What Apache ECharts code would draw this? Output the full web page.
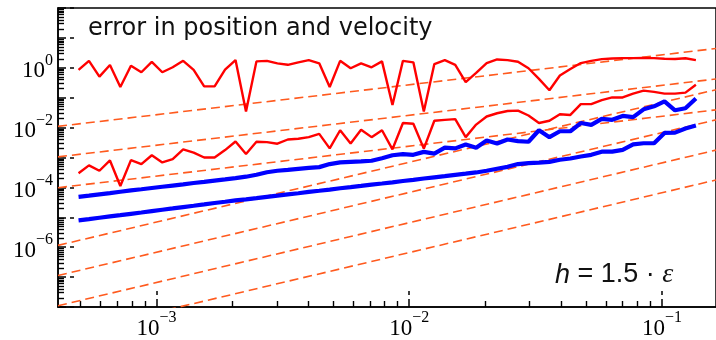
<!DOCTYPE html>
<html>
<head>
<meta charset="utf-8">
<script src="https://cdn.jsdelivr.net/npm/echarts@6/dist/echarts.min.js"></script>
<style>
  html, body { margin: 0; padding: 0; background: #fff; }
  #chart { width: 716px; height: 340px; }
</style>
</head>
<body>
<div id="chart"></div>
<script>
// ---- data ----
const X_MIN = 4.08e-4;
const X_MAX = 0.1637;
const Y_MIN = 1e-8;
const Y_MAX = 1e2;

const stepSizes = [4.92e-4, 5.41e-4, 5.95e-4, 6.55e-4, 7.20e-4, 7.93e-4, 8.72e-4, 9.59e-4, 1.055e-3, 1.160e-3,
  1.276e-3, 1.404e-3, 1.545e-3, 1.699e-3, 1.869e-3, 2.056e-3, 2.262e-3, 2.488e-3, 2.737e-3, 3.011e-3,
  3.311e-3, 3.643e-3, 4.007e-3, 4.408e-3, 4.849e-3, 5.333e-3, 5.867e-3, 6.454e-3, 7.099e-3, 7.809e-3,
  8.590e-3, 9.449e-3, 1.039e-2, 1.143e-2, 1.258e-2, 1.384e-2, 1.522e-2, 1.674e-2, 1.841e-2, 2.026e-2,
  2.228e-2, 2.451e-2, 2.696e-2, 2.966e-2, 3.263e-2, 3.589e-2, 3.948e-2, 4.343e-2, 4.777e-2, 5.255e-2,
  5.781e-2, 6.359e-2, 6.995e-2, 7.694e-2, 8.464e-2, 9.311e-2, 0.1024, 0.1127, 0.1239, 0.1363];

const redUpper = [0.847, 1.71, 0.509, 1.24, 0.229, 1.17, 0.711, 1.59, 0.711, 1.04,
  1.71, 0.847, 0.239, 0.239, 0.866, 1.81, 0.0344, 1.64, 1.71, 1.41,
  1.26, 1.52, 1.81, 1.41, 0.229, 1.71, 0.964, 1.41, 1.04, 1.64,
  0.0566, 1.71, 1.52, 0.0344, 1.33, 1.81, 1.26, 0.333, 0.675, 1.44,
  1.90, 1.81, 1.59, 0.964, 0.428, 0.177, 0.550, 0.914, 1.44, 1.71,
  1.95, 2.05, 2.10, 2.10, 2.12, 2.10, 2.00, 1.98, 2.08, 1.80];

const redLower = [2.98e-4, 5.46e-4, 3.60e-4, 7.96e-4, 1.11e-4, 8.15e-4, 6.03e-4, 1.19e-3, 6.85e-4, 8.79e-4,
  1.88e-3, 1.46e-3, 1.0e-3, 1.0e-3, 1.77e-3, 3.44e-3, 1.30e-3, 3.36e-3, 3.28e-3, 2.89e-3,
  4.00e-3, 4.22e-3, 4.80e-3, 6.15e-3, 2.02e-3, 8.15e-3, 2.95e-3, 8.53e-3, 4.80e-3, 8.15e-3,
  1.88e-3, 1.42e-2, 1.34e-2, 1.98e-3, 1.69e-2, 1.82e-2, 1.92e-2, 4.80e-3, 1.26e-2, 2.35e-2,
  3.02e-2, 3.60e-2, 3.71e-2, 2.54e-2, 1.42e-2, 1.69e-2, 2.80e-2, 2.65e-2, 6.11e-2, 6.11e-2,
  8.28e-2, 0.102, 0.102, 0.137, 0.173, 0.156, 0.137, 0.137, 0.148, 0.272];

const blueUpper = [4.83e-5, 5.30e-5, 5.84e-5, 6.44e-5, 7.16e-5, 7.91e-5, 8.65e-5, 9.55e-5, 1.05e-4, 1.15e-4,
  1.26e-4, 1.40e-4, 1.53e-4, 1.69e-4, 1.85e-4, 2.04e-4, 2.28e-4, 2.66e-4, 3.21e-4, 3.60e-4,
  3.88e-4, 4.19e-4, 4.52e-4, 4.77e-4, 6.03e-4, 6.85e-4, 7.12e-4, 7.39e-4, 7.79e-4, 9.48e-4,
  1.19e-3, 1.29e-3, 1.23e-3, 1.54e-3, 1.35e-3, 2.13e-3, 2.02e-3, 2.74e-3, 2.13e-3, 3.71e-3,
  2.95e-3, 4.00e-3, 3.54e-3, 3.36e-3, 8.15e-3, 4.80e-3, 7.55e-3, 7.55e-3, 1.42e-2, 1.24e-2,
  1.96e-2, 1.82e-2, 2.46e-2, 2.23e-2, 4.09e-2, 5.14e-2, 7.50e-2, 3.79e-2, 4.42e-2, 9.42e-2];

const blueLower = [7.85e-6, 8.65e-6, 9.63e-6, 1.07e-5, 1.18e-5, 1.31e-5, 1.45e-5, 1.61e-5, 1.79e-5, 1.98e-5,
  2.20e-5, 2.43e-5, 2.70e-5, 3.00e-5, 3.31e-5, 3.68e-5, 4.00e-5, 4.38e-5, 4.83e-5, 5.30e-5,
  5.84e-5, 6.39e-5, 7.06e-5, 7.73e-5, 8.47e-5, 9.34e-5, 1.02e-4, 1.12e-4, 1.24e-4, 1.35e-4,
  1.48e-4, 1.64e-4, 1.79e-4, 1.98e-4, 2.17e-4, 2.37e-4, 2.62e-4, 2.87e-4, 3.16e-4, 3.60e-4,
  4.19e-4, 4.87e-4, 6.03e-4, 6.49e-4, 6.70e-4, 7.12e-4, 8.40e-4, 9.27e-4, 1.08e-3, 1.23e-3,
  1.57e-3, 1.57e-3, 1.79e-3, 2.74e-3, 3.00e-3, 3.00e-3, 6.64e-3, 6.79e-3, 9.33e-3, 1.17e-2];

// reference (order) lines: value at X_MIN and at X_MAX
const guideAtMin = [1.10e-2, 1.05e-3, 9.77e-5, 1.15e-6, 1.13e-7, 1.10e-8, 1.10e-9];
const guideAtMax = [4.43, 0.423, 3.92e-2, 0.185, 1.82e-2, 1.77e-3, 1.77e-4];

// ticks
const xMajorTicks = [1e-3, 1e-2, 1e-1];
const yMajorTicks = [1e-8, 1e-7, 1e-6, 1e-5, 1e-4, 1e-3, 1e-2, 1e-1, 1e0, 1e1, 1e2];
const yLabelTicks = [1e-6, 1e-4, 1e-2, 1e0];
const minorMultipliers = [2, 3, 4, 5, 6, 7, 8, 9];

const titleText = 'error in position and velocity';

// ---- build ----
function minorTicks(majors, lo, hi) {
  const out = [];
  const decades = [majors[0] / 10].concat(majors);
  decades.forEach(d => minorMultipliers.forEach(m => {
    const v = d * m;
    if (v > lo && v < hi) out.push(v);
  }));
  return out;
}
const xMinorTicks = minorTicks([1e-4].concat(xMajorTicks), X_MIN, X_MAX);
const yMinorTicks = minorTicks(yMajorTicks, Y_MIN, Y_MAX);

function pow10Label(v) {
  const e = Math.round(Math.log10(v));
  const es = e < 0 ? '\u2212' + (-e) : String(e);
  return '{b|10}{s|' + es + '}';
}
const labelRich = {
  b: { fontFamily: 'Liberation Serif', fontSize: 23, lineHeight: 30, verticalAlign: 'bottom', color: '#000' },
  s: { fontFamily: 'Liberation Serif', fontSize: 16, lineHeight: 16, verticalAlign: 'top', color: '#000' }
};

const pair = (a, b) => a.map((v, i) => [v, b[i]]);

const series = [];
guideAtMin.forEach((v, i) => {
  series.push({
    type: 'line', xAxisIndex: 0, yAxisIndex: 0, symbol: 'none', silent: true, clip: true,
    data: [[X_MIN, v], [X_MAX, guideAtMax[i]]],
    lineStyle: { color: '#ff5a1e', width: 1.6, type: [9, 5] }, z: 2
  });
});
[[redUpper, '#ff0000', 2.4], [redLower, '#ff0000', 2.4], [blueUpper, '#0000ff', 4.2], [blueLower, '#0000ff', 4.2]]
  .forEach(([ys, c, w]) => series.push({
    type: 'line', xAxisIndex: 0, yAxisIndex: 0, symbol: 'none', clip: true,
    data: pair(stepSizes, ys), lineStyle: { color: c, width: w }, z: 3
  }));

const chart = echarts.init(document.getElementById('chart'), null, { renderer: 'canvas' });
chart.setOption({
  animation: false,
  backgroundColor: '#fff',
  grid: { left: 58, top: 8, width: 660, height: 304, show: true, borderColor: '#000', borderWidth: 1.5, backgroundColor: 'transparent' },
  xAxis: [
    {
      type: 'log', min: X_MIN, max: X_MAX, position: 'bottom', gridIndex: 0,
      axisLine: { show: true, onZero: false, lineStyle: { color: '#000', width: 1.5 } },
      axisTick: { show: true, inside: true, length: 16, customValues: xMajorTicks, lineStyle: { color: '#000', width: 1.5, type: [8, 4] } },
      axisLabel: { show: true, customValues: xMajorTicks, margin: 3, formatter: pow10Label, rich: labelRich },
      splitLine: { show: false }, minorTick: { show: false }
    },
    {
      type: 'log', min: X_MIN, max: X_MAX, position: 'bottom', gridIndex: 0,
      axisLine: { show: false },
      axisTick: { show: true, inside: true, length: 6, customValues: xMinorTicks, lineStyle: { color: '#000', width: 1.4 } },
      axisLabel: { show: false }, splitLine: { show: false }
    }
  ],
  yAxis: [
    {
      type: 'log', min: Y_MIN, max: Y_MAX, position: 'left', gridIndex: 0,
      axisLine: { show: true, onZero: false, lineStyle: { color: '#000', width: 1.5 } },
      axisTick: { show: true, inside: true, length: 16, customValues: yMajorTicks, lineStyle: { color: '#000', width: 1.5, type: [8, 4] } },
      axisLabel: { show: true, customValues: yLabelTicks, margin: 5, formatter: pow10Label, rich: labelRich },
      splitLine: { show: false }, minorTick: { show: false }
    },
    {
      type: 'log', min: Y_MIN, max: Y_MAX, position: 'left', gridIndex: 0,
      axisLine: { show: false },
      axisTick: { show: true, inside: true, length: 6, customValues: yMinorTicks, lineStyle: { color: '#000', width: 1.4 } },
      axisLabel: { show: false }, splitLine: { show: false }
    }
  ],
  graphic: [
    {
      type: 'text', left: 88, top: 17, z: 10,
      style: { text: titleText, fill: '#111', fontFamily: 'DejaVu Sans', fontSize: 24 }
    },
    {
      type: 'text', left: 555, top: 261, z: 10,
      style: {
        text: '{i|h} = 1.5 \u00b7 {e|\u03b5}', fill: '#111', fontFamily: 'Liberation Sans', fontSize: 27,
        rich: {
          i: { fontFamily: 'Liberation Sans', fontStyle: 'italic', fontSize: 27, fill: '#111' },
          e: { fontFamily: 'Liberation Serif', fontStyle: 'italic', fontSize: 28, fill: '#111' }
        }
      }
    }
  ],
  series: series
});
</script>
</body>
</html>
